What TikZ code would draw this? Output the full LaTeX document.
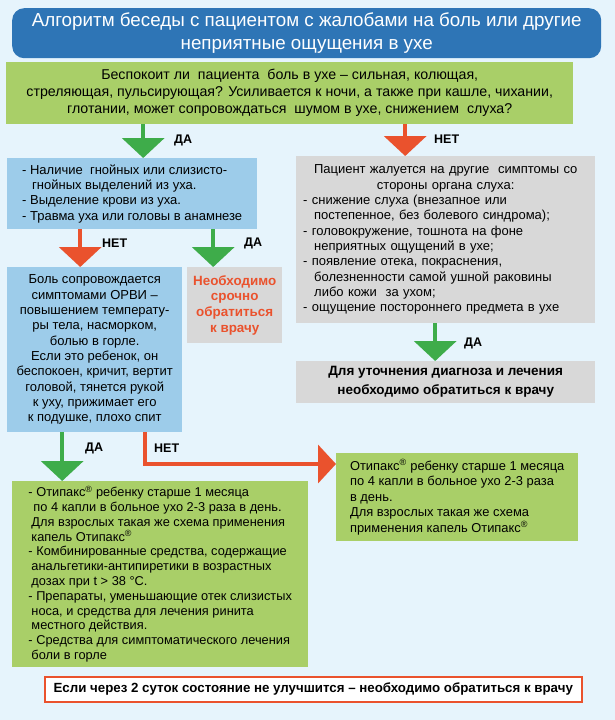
\documentclass[tikz,border=0pt]{standalone}
\usepackage{fontspec}
\setmainfont{Liberation Sans}
\usetikzlibrary{arrows.meta,positioning}
\definecolor{bgBlue}{RGB}{230,244,252}
\definecolor{hdrBlue}{RGB}{46,117,182}
\definecolor{qGreen}{RGB}{169,207,104}
\definecolor{boxBlue}{RGB}{157,204,234}
\definecolor{boxGrey}{RGB}{216,216,216}
\definecolor{arrGreen}{RGB}{62,172,74}
\definecolor{arrRed}{RGB}{234,82,45}

\begin{document}
\begin{tikzpicture}[x=1pt, y=-1pt, every node/.style={font=\fontsize{13}{15.3}\selectfont},
  box/.style={anchor=north west, inner sep=0pt},
  arrG/.style={draw=arrGreen, line width=4pt, -{Triangle[width=42pt,length=20pt]}},
  arrR/.style={draw=arrRed, line width=4pt, -{Triangle[width=42pt,length=20pt]}},
  lab/.style={font=\bfseries\fontsize{12.5}{14}\selectfont, inner sep=0pt, anchor=west}]
  \path[use as bounding box, fill=bgBlue] (0,0) rectangle (615,720);

  % header and question
  \node[box, fill=hdrBlue, rounded corners=12pt, text=white, align=center,
    minimum width=589pt, minimum height=50pt, font=\fontsize{18.8}{23}\selectfont] (title) at (12,8)
    {Алгоритм беседы с пациентом с жалобами на боль или другие\\неприятные ощущения в ухе};
  \node[box, fill=qGreen, align=center, minimum width=567pt, minimum height=62pt,
    font=\fontsize{14.2}{17}\selectfont] (q) at (6,62)
    {Беспокоит ли\ \ пациента\ \ боль в ухе – сильная, колющая,\\
     стреляющая, пульсирующая? Усиливается к ночи, а также при кашле, чихании,\\
     глотании, может сопровождаться\ \ шумом в ухе, снижением\ \ слуха?};

  % left branch
  \node[box, fill=boxBlue, align=left, minimum width=250pt, minimum height=71pt] (b1) at (7,158)
    {- Наличие\ \ гнойных или слизисто-\\
     \hspace*{10pt}гнойных выделений из уха.\\
     - Выделение крови из уха.\\
     - Травма уха или головы в анамнезе};
  \node[box, fill=boxBlue, align=center, minimum width=175pt, minimum height=165pt] (b2) at (7,267)
    {Боль сопровождается\\симптомами ОРВИ –\\повышением температу-\\ры тела, насморком,\\болью в горле.\\
     Если это ребенок, он\\беспокоен, кричит, вертит\\головой, тянется рукой\\к уху, прижимает его\\к подушке, плохо спит};
  \node[box, fill=boxGrey, align=center, minimum width=95pt, minimum height=76pt, text=arrRed,
    font=\bfseries\fontsize{13.4}{15.6}\selectfont] (urg) at (187,267)
    {Необходимо\\срочно\\обратиться\\к врачу};

  % right branch
  \node[box, fill=boxGrey, align=left, inner xsep=7pt, text width=285pt, minimum height=167pt] (g1) at (296,156)
    {{\centering Пациент жалуется на другие\ \ симптомы со\\стороны органа слуха:\par}
     - снижение слуха (внезапное или\\
     \hspace*{11pt}постепенное, без болевого синдрома);\\
     - головокружение, тошнота на фоне\\
     \hspace*{11pt}неприятных ощущений в ухе;\\
     - появление отека, покраснения,\\
     \hspace*{11pt}болезненности самой ушной раковины\\
     \hspace*{11pt}либо кожи\ \ за ухом;\\
     - ощущение постороннего предмета в ухе};
  \node[box, fill=boxGrey, align=center, minimum width=299pt, minimum height=42pt,
    font=\bfseries\fontsize{13.5}{19}\selectfont] (doc) at (296,361)
    {Для уточнения диагноза и лечения\\необходимо обратиться к врачу};

  % treatment
  \node[box, fill=qGreen, align=left, minimum width=296pt, minimum height=186pt,
    font=\fontsize{12.8}{14.8}\selectfont] (t1) at (12,481)
    {- Отипакс\textsuperscript{®} ребенку старше 1 месяца\\
     \hspace*{5pt}по 4 капли в больное ухо 2-3 раза в день.\\
     \hspace*{3pt}Для взрослых такая же схема применения\\
     \hspace*{3pt}капель Отипакс\textsuperscript{®}\\
     - Комбинированные средства, содержащие\\
     \hspace*{3pt}анальгетики-антипиретики в возрастных\\
     \hspace*{3pt}дозах при t > 38 °C.\\
     - Препараты, уменьшающие отек слизистых\\
     \hspace*{3pt}носа, и средства для лечения ринита\\
     \hspace*{3pt}местного действия.\\
     - Средства для симптоматического лечения\\
     \hspace*{3pt}боли в горле};
  \node[box, fill=qGreen, align=left, minimum width=242pt, minimum height=88pt,
    font=\fontsize{12.9}{15.5}\selectfont] (t2) at (336,453)
    {Отипакс\textsuperscript{®} ребенку старше 1 месяца\\
     по 4 капли в больное ухо 2-3 раза\\
     в день.\\
     Для взрослых такая же схема\\
     применения капель Отипакс\textsuperscript{®}};
  \node[box, fill=white, draw=arrRed, line width=1.5pt, minimum width=537pt, minimum height=25pt,
    font=\bfseries\fontsize{13.3}{14}\selectfont] (warn) at (44,676)
    {Если через 2 суток состояние не улучшится – необходимо обратиться к врачу};

  % arrows
  \draw[arrG] ([xshift=11pt]b1.north |- q.south) -- ([xshift=11pt]b1.north)
    node[lab, pos=0.47, xshift=29pt] (yes1) {ДА};
  \draw[arrR] ([xshift=-40.5pt]g1.north |- q.south) -- ([xshift=-40.5pt]g1.north)
    node[lab, pos=0.47, xshift=27pt] (no1) {НЕТ};
  \draw[arrR] ([xshift=-14.5pt]b2.north |- b1.south) -- ([xshift=-14.5pt]b2.north)
    node[lab, pos=0.37, xshift=20pt] (no2) {НЕТ};
  \draw[arrG] ([xshift=-21.5pt]urg.north |- b1.south) -- ([xshift=-21.5pt]urg.north)
    node[lab, pos=0.37, xshift=29pt] (yes2) {ДА};
  \draw[arrG] ([xshift=-10.5pt]doc.north |- g1.south) -- ([xshift=-10.5pt]doc.north)
    node[lab, pos=0.53, xshift=27pt] (yes3) {ДА};
  \draw[arrG] ([xshift=-98pt]t1.north |- b2.south) -- ([xshift=-98pt]t1.north)
    node[lab, pos=0.33, xshift=21pt] (yes4) {ДА};
  \draw[arrR, -{Triangle[width=38pt,length=18pt]}] ([xshift=50.5pt]b2.south) |- ([yshift=-11pt]t2.north west)
    node[lab, pos=0.25, xshift=7pt] (no3) {НЕТ};
\end{tikzpicture}
\end{document}
